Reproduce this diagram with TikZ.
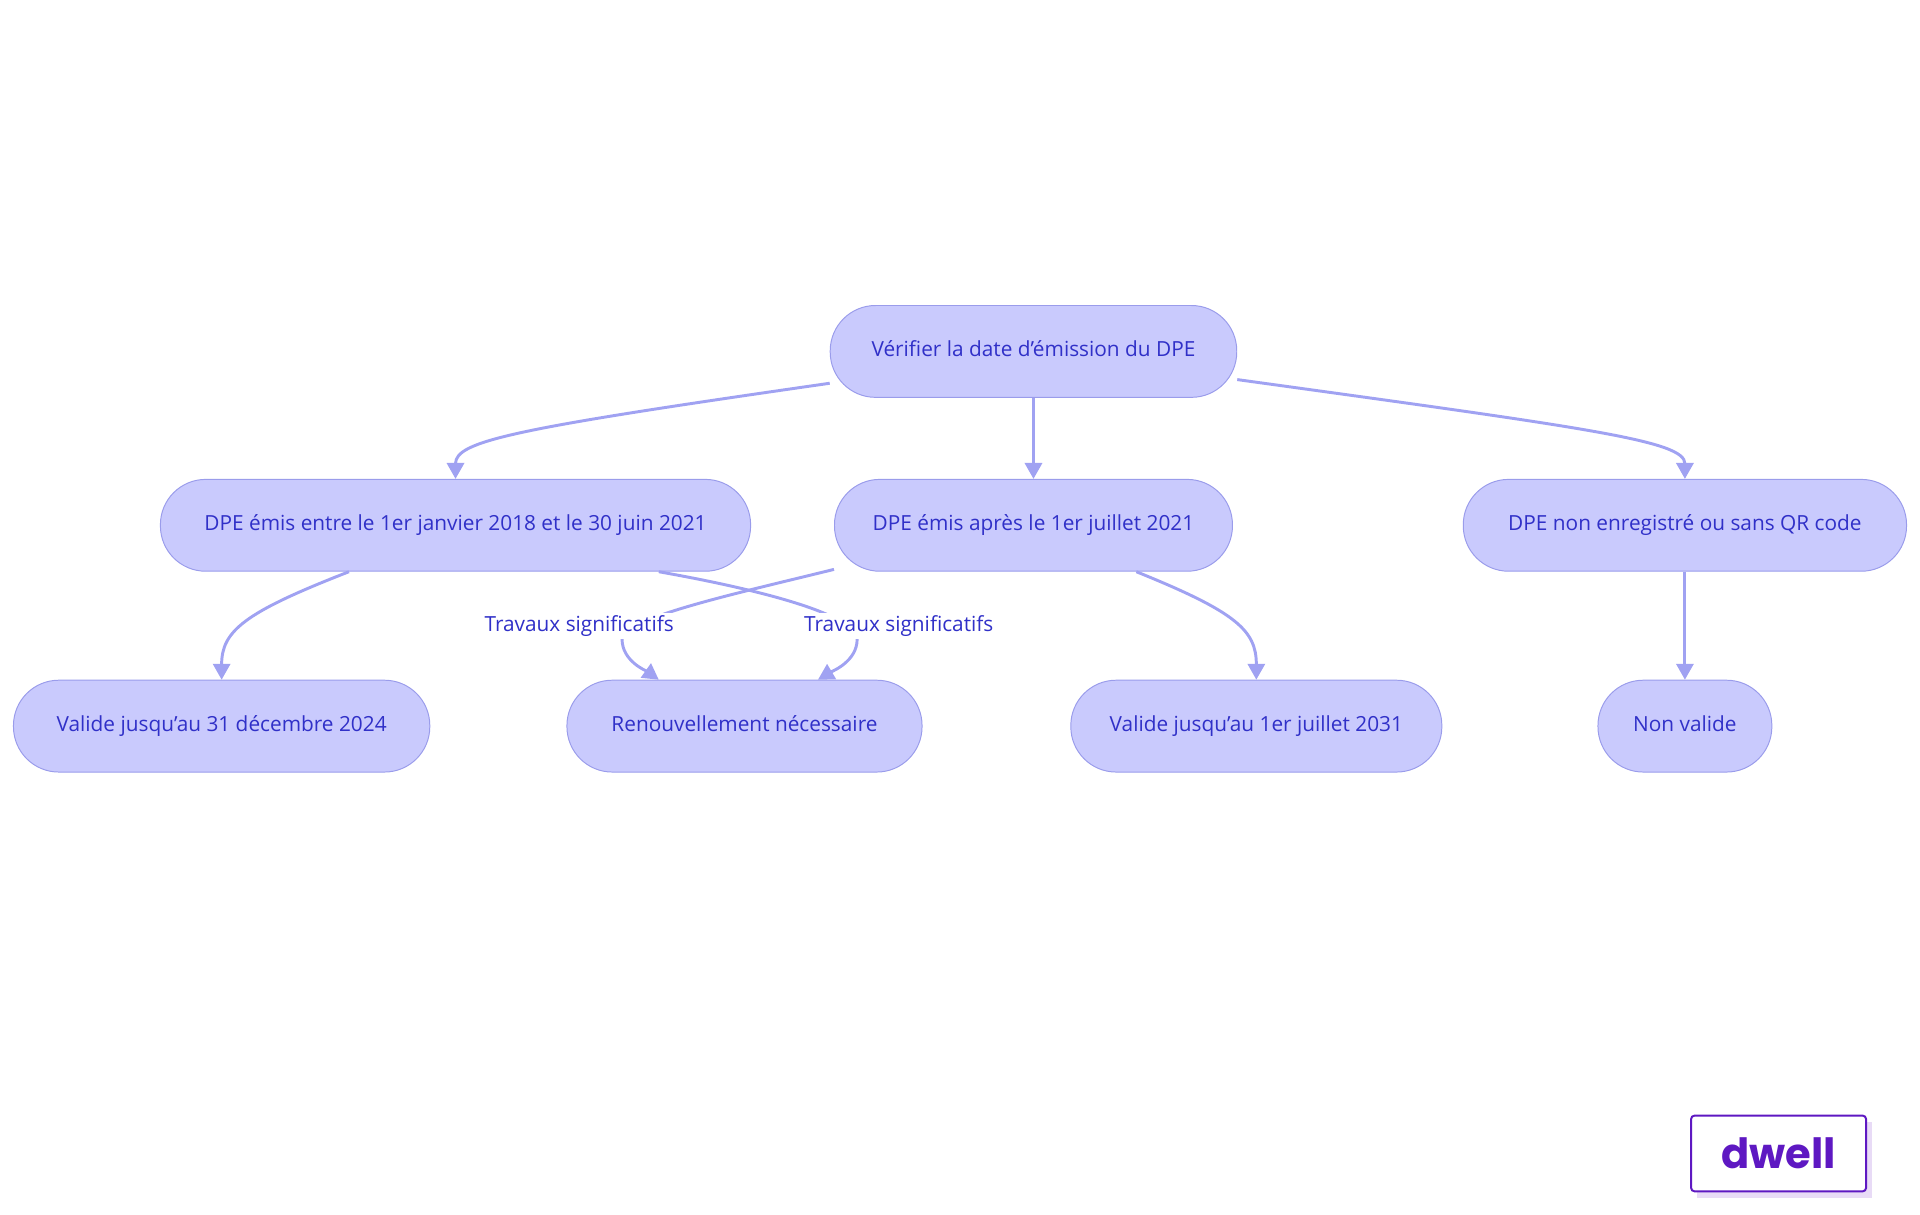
\documentclass[tikz,border=0pt]{standalone}
\usepackage{fontspec}
\setmainfont{Open Sans}
\newfontfamily\logofont{Poppins}
\usetikzlibrary{arrows.meta}
\definecolor{boxfill}{HTML}{C9CAFD}
\definecolor{boxline}{HTML}{9A9CEB}
\definecolor{boxtext}{HTML}{3030C8}
\definecolor{edgecol}{HTML}{A0A2F2}
\definecolor{logocol}{HTML}{5E18C2}
\definecolor{logoshade}{HTML}{E8DBF6}
\tikzset{
  box/.style={draw=boxline, fill=boxfill, text=boxtext, rounded corners=37pt,
    minimum height=75pt, minimum width=#1, inner xsep=20pt, text height=12pt, text depth=3pt,
    font=\fontsize{17}{20}\selectfont, line width=0.8pt},
  edge/.style={draw=edgecol, line width=2.4pt, -{Triangle[length=13pt,width=14pt]}},
  tag/.style={fill=white, text=boxtext, inner sep=2pt, font=\fontsize{17}{20}\selectfont}
}
\begin{document}
\begin{tikzpicture}[x=1pt,y=-1pt]
    \useasboundingbox (0,0) rectangle (1568,992);

    \node[box=332pt] (root) at (844,287) {Vérifier la date d'émission du DPE};
    \node[box=482pt] (a) at (372,429) {DPE émis entre le 1er janvier 2018 et le 30 juin 2021};
    \node[box=325pt] (b) at (844,429) {DPE émis après le 1er juillet 2021};
    \node[box=362pt] (c) at (1376,429) {DPE non enregistré ou sans QR code};
    \node[box=340pt] (l1) at (181,593) {Valide jusqu'au 31 décembre 2024};
    \node[box=290pt] (l2) at (608,593) {Renouvellement nécessaire};
    \node[box=303pt] (l3) at (1026,593) {Valide jusqu'au 1er juillet 2031};
    \node[box=142pt] (l4) at (1376,593) {Non valide};

    \draw[edge] ([yshift=-26pt]root.west) .. controls (420,350) and (372,360) .. (a.north);
    \draw[edge] (root) -- (b);
    \draw[edge] ([yshift=-23pt]root.east) .. controls (1300,350) and (1376,360) .. (c.north);
    \draw[edge] ([xshift=-87pt]a.south) .. controls (200,500) and (181,515) .. (l1.north);
    \draw[edge] ([xshift=166pt]a.south) .. controls (640,485) and (700,505) .. (700,522)
      .. controls (700,540) and (680,548) .. ([xshift=60pt]l2.north);
    \draw[edge] ([yshift=-36pt]b.west) .. controls (600,485) and (508,505) .. (508,522)
      .. controls (508,540) and (528,548) .. ([xshift=-70pt]l2.north);
    \draw[edge] ([xshift=84pt]b.south) .. controls (1010,500) and (1026,515) .. (l3.north);
    \draw[edge] (c) -- (l4);

    \node[tag] (t1) at (473,511) {Travaux significatifs};
    \node[tag] (t2) at (734,511) {Travaux significatifs};

    % logo
    \fill[logoshade] (1386,916) rectangle (1529,978);
    \node[draw=logocol, fill=white, line width=1.6pt, rounded corners=3pt,
      minimum width=143pt, minimum height=62pt, text=logocol,
      font=\logofont\bfseries\fontsize{34}{40}\selectfont] (logo) at (1452.5,942) {dwell};
\end{tikzpicture}
\end{document}
